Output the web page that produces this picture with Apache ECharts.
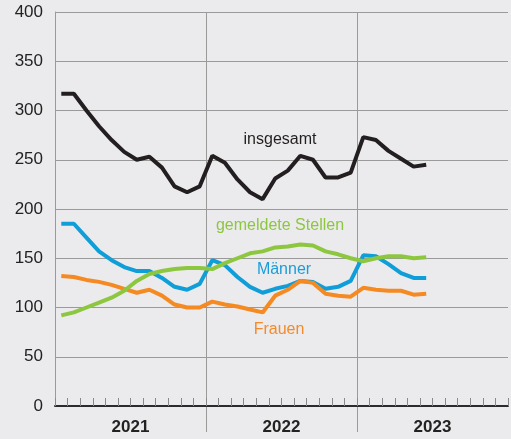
<!DOCTYPE html>
<html>
<head>
<meta charset="utf-8">
<script src="https://cdn.jsdelivr.net/npm/echarts@6/dist/echarts.min.js"></script>
<style>
  html, body { margin: 0; padding: 0; background: #ebebed; }
  #chart { width: 511px; height: 439px; }
</style>
</head>
<body>
<div id="chart"></div>
<script>
const years = ['2021', '2022', '2023']
const monthNums = ['01', '02', '03', '04', '05', '06', '07', '08', '09', '10', '11', '12']
const months = years.flatMap(y => monthNums.map(m => y + '-' + m))

// Jan 2021 .. Jun 2023
const insgesamt = [317, 317, 300, 284, 270, 258, 250, 253, 242, 223, 217, 223,
  254, 247, 230, 217, 210, 231, 239, 254, 250, 232, 232, 237,
  273, 270, 259, 251, 243, 245]
const maenner = [185, 185, 171, 157, 148, 141, 137, 137, 130, 121, 118, 124,
  148, 143, 131, 121, 115, 119, 122, 127, 126, 119, 121, 127,
  153, 152, 144, 135, 130, 130]
const frauen = [132, 131, 128, 126, 123, 119, 115, 118, 112, 103, 100, 100,
  106, 103, 101, 98, 95, 112, 118, 127, 125, 114, 112, 111,
  120, 118, 117, 117, 113, 114]
const stellen = [92, 95, 100, 105, 110, 117, 127, 134, 137, 139, 140, 140,
  139, 145, 150, 155, 157, 161, 162, 164, 163, 157, 154, 150,
  147, 150, 152, 152, 150, 151]

const yTicks = { min: 0, max: 400, interval: 50 }
// year boundaries and year label positions, in months
const yearBreaks = [12, 24]
const yearMids = [6, 18, 30]

const font = 'Liberation Sans, Arial, sans-serif'
const chart = echarts.init(document.getElementById('chart'))

function lineSeries(name, data, color) {
  return {
    name, type: 'line', data, xAxisIndex: 0,
    symbol: 'none', smooth: false, animation: false,
    lineStyle: { color, width: 4 }
  }
}

chart.setOption({
  backgroundColor: '#ebebed',
  animation: false,
  grid: { left: 55, right: 3, top: 12, bottom: 33 },
  xAxis: [
    {
      type: 'category', data: months, boundaryGap: true,
      axisLine: { show: true, lineStyle: { color: '#2b2b2b', width: 2 } },
      axisTick: { show: true, inside: true, length: 8, interval: 0, lineStyle: { color: '#8a8a8a', width: 1 } },
      axisLabel: { show: false },
      splitLine: { show: false },
      z: 5
    },
    {
      type: 'value', min: 0, max: months.length, position: 'bottom',
      axisLine: { show: false },
      axisTick: { show: true, length: 26, customValues: yearBreaks, lineStyle: { color: '#9a9a9a', width: 1 } },
      axisLabel: {
        show: true, customValues: yearMids, margin: 13,
        formatter: (v) => years[yearMids.indexOf(v)] || '',
        fontFamily: font, fontSize: 17, fontWeight: 'bold', color: '#222'
      },
      splitLine: { show: true, lineStyle: { color: '#9a9a9a', width: 1 } }
    }
  ],
  yAxis: {
    type: 'value', ...yTicks,
    axisLine: { show: true, lineStyle: { color: '#9a9a9a', width: 1 } },
    axisTick: { show: false },
    axisLabel: { margin: 12, fontFamily: font, fontSize: 17, color: '#222' },
    splitLine: { show: true, lineStyle: { color: '#9a9a9a', width: 1 } }
  },
  graphic: [
    { type: 'text', x: 280, y: 140, style: { text: 'insgesamt', font: '16px ' + font, fill: '#231f20', align: 'center', verticalAlign: 'middle' } },
    { type: 'text', x: 280, y: 226, style: { text: 'gemeldete Stellen', font: '16px ' + font, fill: '#8dc63f', align: 'center', verticalAlign: 'middle' } },
    { type: 'text', x: 284, y: 270, style: { text: 'Männer', font: '16px ' + font, fill: '#1a9dd9', align: 'center', verticalAlign: 'middle' } },
    { type: 'text', x: 279, y: 330, style: { text: 'Frauen', font: '16px ' + font, fill: '#f58a2a', align: 'center', verticalAlign: 'middle' } }
  ],
  series: [
    lineSeries('Männer', maenner, '#0f9ed8'),
    lineSeries('Frauen', frauen, '#f58a23'),
    lineSeries('gemeldete Stellen', stellen, '#8dc63f'),
    lineSeries('insgesamt', insgesamt, '#231f20')
  ]
})
</script>
</body>
</html>
